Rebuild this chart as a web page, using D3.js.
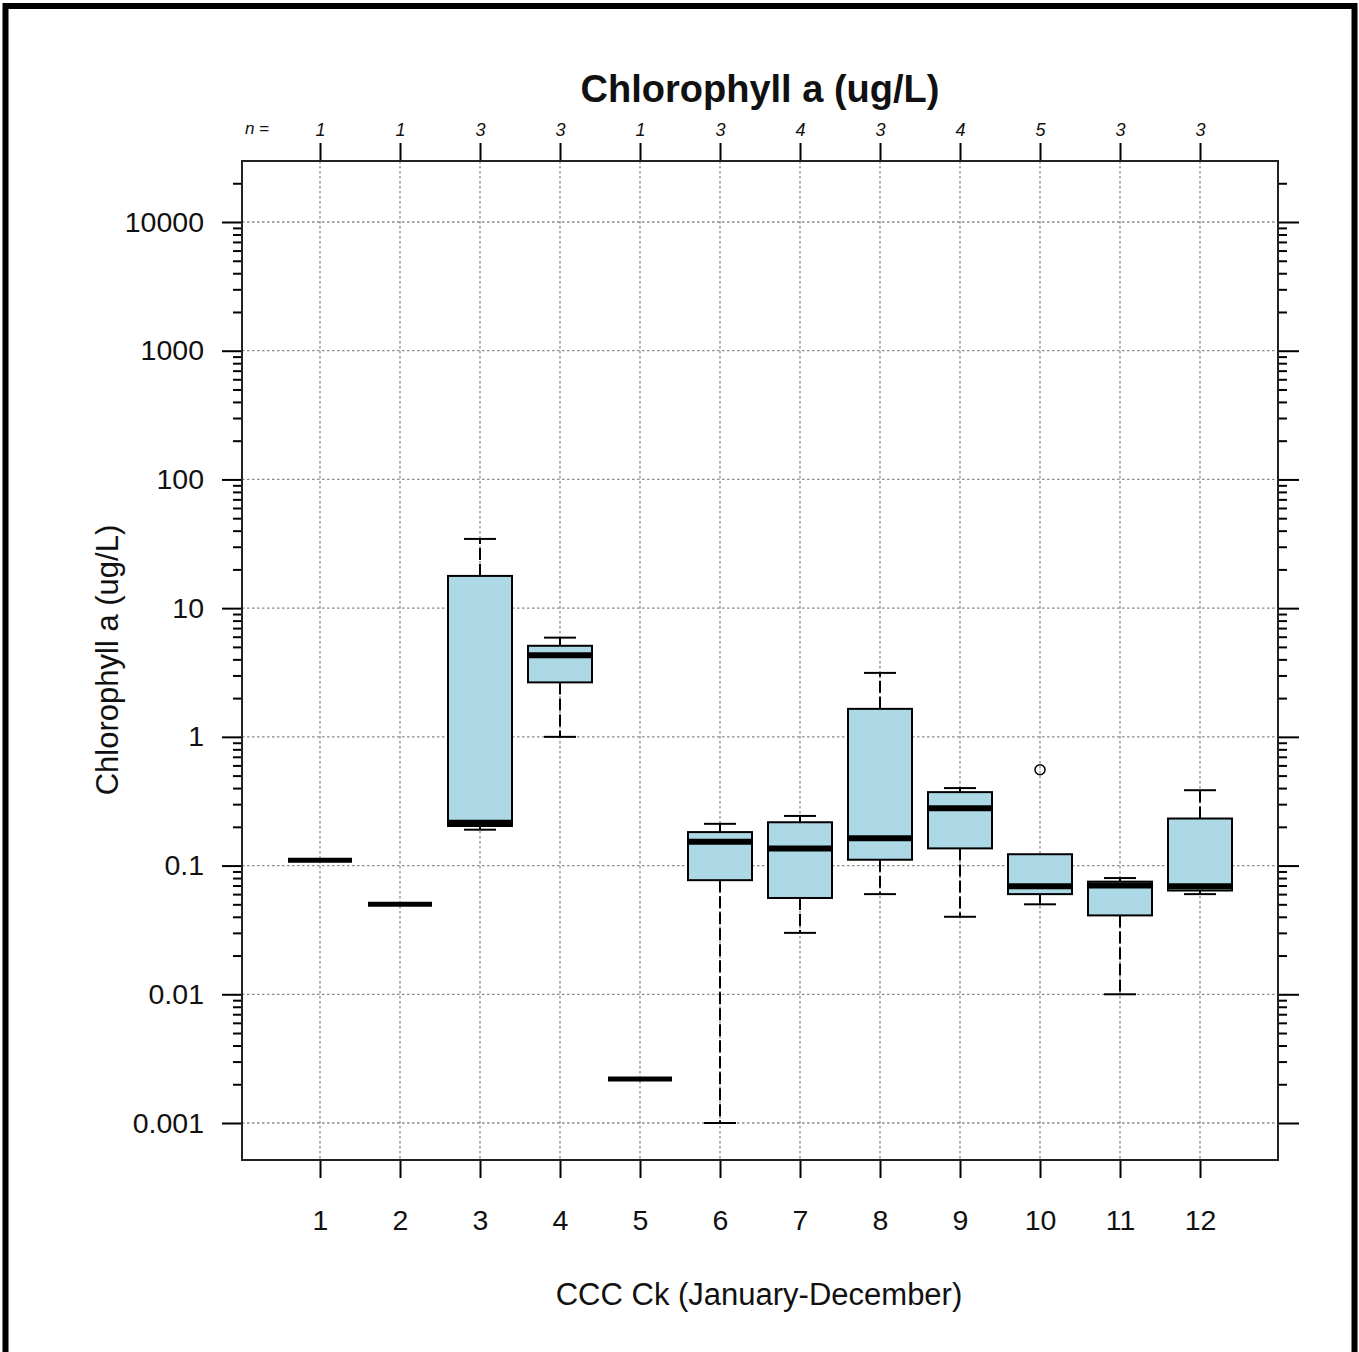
<!DOCTYPE html>
<html>
<head>
<meta charset="utf-8">
<script src="https://cdn.jsdelivr.net/npm/d3@7"></script>
<style>
  html, body { margin: 0; padding: 0; background: #fff; }
  svg { display: block; }
  text { font-family: "Liberation Sans", Arial, sans-serif; fill: #111; }
</style>
</head>
<body>
<script>
// ---------- data ----------
const months      = [1, 2, 3, 4, 5, 6, 7, 8, 9, 10, 11, 12];
const counts      = [1, 1, 3, 3, 1, 3, 4, 3, 4, 5, 3, 3];
const whiskerLow  = [0.11, 0.05, 0.19, 1.0, 0.0022, 0.001, 0.030, 0.060, 0.040, 0.050, 0.010, 0.060];
const lowerHinge  = [0.11, 0.05, 0.203, 2.65, 0.0022, 0.077, 0.056, 0.111, 0.136, 0.060, 0.041, 0.064];
const medians     = [0.11, 0.05, 0.215, 4.3, 0.0022, 0.153, 0.136, 0.163, 0.279, 0.069, 0.070, 0.069];
const upperHinge  = [0.11, 0.05, 17.8, 5.1, 0.0022, 0.182, 0.217, 1.65, 0.372, 0.1225, 0.075, 0.232];
const whiskerHigh = [0.11, 0.05, 34.5, 5.9, 0.0022, 0.211, 0.243, 3.14, 0.40, 0.1225, 0.080, 0.385];
const outliers    = [[], [], [], [], [], [], [], [], [], [0.555], [], []];
const yTickValues = [0.001, 0.01, 0.1, 1, 10, 100, 1000, 10000];
const yTickLabels = ["0.001", "0.01", "0.1", "1", "10", "100", "1000", "10000"];
const titleText   = "Chlorophyll a (ug/L)";
const yLabelText  = "Chlorophyll a (ug/L)";
const xLabelText  = "CCC Ck (January-December)";

// ---------- layout ----------
const W = 1359, H = 1352;
const plot = { left: 242, right: 1278, top: 161, bottom: 1160 };

const svg = d3.select("body").append("svg").attr("width", W).attr("height", H);

// outer frame
svg.append("rect").attr("x", 5.5).attr("y", 6).attr("width", 1349).attr("height", 1370)
  .attr("fill", "none").attr("stroke", "#000").attr("stroke-width", 6);

const x = d3.scaleLinear().domain([0.025, 12.975]).range([plot.left, plot.right]);
const y = d3.scaleLog().domain([Math.pow(10, -3.2875), Math.pow(10, 4.474)]).range([plot.bottom, plot.top]);

// grid
const grid = svg.append("g").attr("stroke", "#8a8a8a").attr("stroke-width", 1.3).attr("stroke-dasharray", "2.5,2.5");
grid.selectAll("line.v").data(months).join("line")
  .attr("x1", d => x(d)).attr("x2", d => x(d)).attr("y1", plot.top).attr("y2", plot.bottom);
grid.selectAll("line.h").data(yTickValues).join("line")
  .attr("y1", d => y(d)).attr("y2", d => y(d)).attr("x1", plot.left).attr("x2", plot.right);

// minor ticks (decades from 1e-3 upward)
const minors = [];
for (let e = -3; e <= 4; e++) for (let k = 2; k <= 9; k++) {
  const v = k * Math.pow(10, e);
  if (v > y.domain()[0] && v < y.domain()[1]) minors.push(v);
}

// left axis
const leftAxis = d3.axisLeft(y).tickValues(yTickValues).tickSize(20).tickPadding(18)
  .tickFormat((d, i) => yTickLabels[i]);
const gl = svg.append("g").attr("transform", `translate(${plot.left},0)`).call(leftAxis);
gl.select(".domain").remove();
gl.selectAll(".tick line").attr("stroke", "#000").attr("stroke-width", 2);
gl.selectAll(".tick text").attr("font-size", 28.5).attr("fill", "#111")
  .attr("font-family", '"Liberation Sans", Arial, sans-serif');
const glm = svg.append("g").attr("transform", `translate(${plot.left},0)`)
  .call(d3.axisLeft(y).tickValues(minors).tickSize(9).tickFormat(""));
glm.select(".domain").remove();
glm.selectAll(".tick line").attr("stroke", "#000").attr("stroke-width", 2);

// right axis
const gr = svg.append("g").attr("transform", `translate(${plot.right},0)`)
  .call(d3.axisRight(y).tickValues(yTickValues).tickSize(21).tickFormat(""));
gr.select(".domain").remove();
gr.selectAll(".tick line").attr("stroke", "#000").attr("stroke-width", 2);
const grm = svg.append("g").attr("transform", `translate(${plot.right},0)`)
  .call(d3.axisRight(y).tickValues(minors).tickSize(9).tickFormat(""));
grm.select(".domain").remove();
grm.selectAll(".tick line").attr("stroke", "#000").attr("stroke-width", 2);

// bottom axis
const gb = svg.append("g").attr("transform", `translate(0,${plot.bottom})`)
  .call(d3.axisBottom(x).tickValues(months).tickSize(18).tickPadding(32).tickFormat(d => String(d)));
gb.select(".domain").remove();
gb.selectAll(".tick line").attr("stroke", "#000").attr("stroke-width", 2);
gb.selectAll(".tick text").attr("font-size", 28.5).attr("fill", "#111")
  .attr("font-family", '"Liberation Sans", Arial, sans-serif');

// top axis with counts
const gt = svg.append("g").attr("transform", `translate(0,${plot.top})`)
  .call(d3.axisTop(x).tickValues(months).tickSize(18).tickPadding(7)
    .tickFormat((d, i) => String(counts[i])));
gt.select(".domain").remove();
gt.selectAll(".tick line").attr("stroke", "#000").attr("stroke-width", 2);
gt.selectAll(".tick text").attr("font-size", 18).attr("font-style", "italic").attr("fill", "#111")
  .attr("font-family", '"Liberation Sans", Arial, sans-serif');
svg.append("text").attr("x", 257).attr("y", 134).attr("text-anchor", "middle")
  .attr("font-size", 17).attr("font-style", "italic").text("n =");

// plot frame
svg.append("rect").attr("x", plot.left).attr("y", plot.top)
  .attr("width", plot.right - plot.left).attr("height", plot.bottom - plot.top)
  .attr("fill", "none").attr("stroke", "#222").attr("stroke-width", 2);

// boxes
const boxW = x(0.4) - x(0);   // half width
const capW = x(0.2) - x(0);
const stats = months.map((m, i) => ({
  m, n: counts[i], lo: whiskerLow[i], q1: lowerHinge[i], med: medians[i],
  q3: upperHinge[i], hi: whiskerHigh[i], out: outliers[i]
}));
const gbx = svg.append("g");
stats.forEach(s => {
  const cx = x(s.m);
  const g = gbx.append("g");
  if (s.n > 1) {
    if (s.hi > s.q3) {
      g.append("line").attr("x1", cx).attr("x2", cx).attr("y1", y(s.q3)).attr("y2", y(s.hi))
        .attr("stroke", "#000").attr("stroke-width", 2).attr("stroke-dasharray", "12,4");
      g.append("line").attr("x1", cx - capW).attr("x2", cx + capW).attr("y1", y(s.hi)).attr("y2", y(s.hi))
        .attr("stroke", "#000").attr("stroke-width", 2);
    }
    if (s.lo < s.q1) {
      g.append("line").attr("x1", cx).attr("x2", cx).attr("y1", y(s.q1)).attr("y2", y(s.lo))
        .attr("stroke", "#000").attr("stroke-width", 2).attr("stroke-dasharray", "12,4");
      g.append("line").attr("x1", cx - capW).attr("x2", cx + capW).attr("y1", y(s.lo)).attr("y2", y(s.lo))
        .attr("stroke", "#000").attr("stroke-width", 2);
    }
    g.append("rect").attr("x", cx - boxW).attr("y", y(s.q3)).attr("width", 2 * boxW)
      .attr("height", y(s.q1) - y(s.q3)).attr("fill", "#add8e6").attr("stroke", "#000").attr("stroke-width", 2);
  }
  g.append("line").attr("x1", cx - boxW).attr("x2", cx + boxW).attr("y1", y(s.med)).attr("y2", y(s.med))
    .attr("stroke", "#000").attr("stroke-width", s.n > 1 ? 6 : 5);
  s.out.forEach(o => {
    g.append("circle").attr("cx", cx).attr("cy", y(o)).attr("r", 5)
      .attr("fill", "none").attr("stroke", "#000").attr("stroke-width", 1.5);
  });
});

// titles
svg.append("text").attr("x", 760).attr("y", 102).attr("text-anchor", "middle")
  .attr("font-size", 38).attr("font-weight", "bold").attr("fill", "#000").text(titleText);
svg.append("text").attr("transform", "translate(118,660) rotate(-90)").attr("text-anchor", "middle")
  .attr("font-size", 31).text(yLabelText);
svg.append("text").attr("x", 759).attr("y", 1305).attr("text-anchor", "middle")
  .attr("font-size", 31).text(xLabelText);
</script>
</body>
</html>
